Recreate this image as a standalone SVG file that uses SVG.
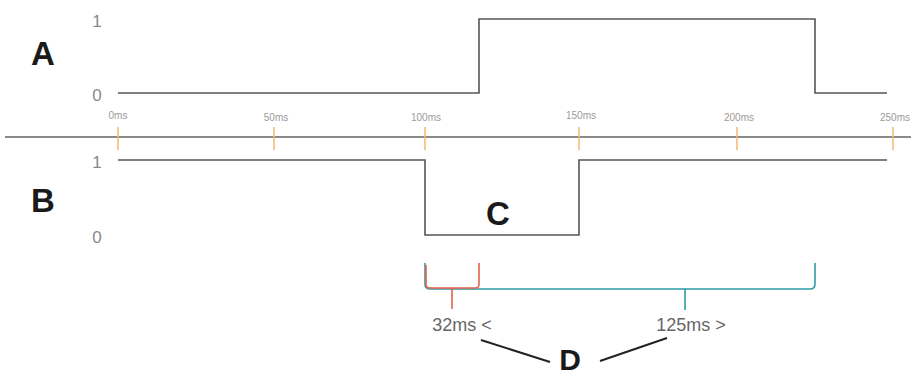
<svg xmlns="http://www.w3.org/2000/svg" width="911" height="377" viewBox="0 0 911 377">
<style>
.sig{fill:none;stroke:#555;stroke-width:1.6;stroke-linejoin:miter}
.axis{stroke:#8a8a8a;stroke-width:2}
.tick{stroke:#f2b870;stroke-width:1.5}
.tl{font-family:"Liberation Sans",Arial,sans-serif;font-size:10px;fill:#9a9a9a;text-anchor:middle}
.lvl{font-family:"Liberation Sans",Arial,sans-serif;font-size:17px;fill:#8a8a8a;text-anchor:middle}
.big{font-family:"Liberation Sans",Arial,sans-serif;font-size:33px;font-weight:bold;fill:#1a1a1a;text-anchor:middle}
.ms{font-family:"Liberation Sans",Arial,sans-serif;font-size:18px;fill:#666;text-anchor:middle}
.teal{fill:none;stroke:#2e9ba6;stroke-width:1.6}
.red{fill:none;stroke:#e8614c;stroke-width:1.6}
.lead{stroke:#222;stroke-width:2}
</style>
<rect width="911" height="377" fill="#fff"/>
<g id="axis">
<line class="axis" x1="5" y1="137" x2="911" y2="137"/>
<g id="ticks">
<line class="tick" x1="118" y1="127" x2="118" y2="150"/>
<line class="tick" x1="274" y1="127" x2="274" y2="150"/>
<line class="tick" x1="425" y1="127" x2="425" y2="150"/>
<line class="tick" x1="579" y1="127" x2="579" y2="150"/>
<line class="tick" x1="737" y1="127" x2="737" y2="150"/>
<line class="tick" x1="893" y1="127" x2="893" y2="150"/>
</g>
<g id="tick-labels">
<text class="tl" x="118" y="119">0ms</text>
<text class="tl" x="276" y="121">50ms</text>
<text class="tl" x="426" y="121">100ms</text>
<text class="tl" x="581" y="119">150ms</text>
<text class="tl" x="739" y="121">200ms</text>
<text class="tl" x="895" y="121">250ms</text>
</g>
</g>
<g id="signalA">
<path class="sig" d="M118,93 H479 V19 H815 V93 H887"/>
<text class="lvl" x="97" y="27">1</text>
<text class="lvl" x="97" y="101">0</text>
<text class="big" x="43" y="65">A</text>
</g>
<g id="signalB">
<path class="sig" d="M118,160 H425 V235 H579 V160 H887"/>
<text class="lvl" x="97" y="168">1</text>
<text class="lvl" x="97" y="243">0</text>
<text class="big" x="43" y="212">B</text>
<text class="big" x="498" y="225">C</text>
</g>
<g id="brackets">
<path class="teal" d="M425,263 V284 Q425,289 430,289 H810 Q815,289 815,284 V263"/>
<line class="teal" x1="685" y1="289" x2="685" y2="310"/>
<path class="red" d="M426,265 V284 Q426,288 430,288 H475 Q479,288 479,284 V263"/>
<line class="red" x1="452" y1="288" x2="452" y2="309"/>
<text class="ms" x="462" y="331">32ms &lt;</text>
<text class="ms" x="691" y="331">125ms &gt;</text>
</g>
<g id="connectors">
<line class="lead" x1="481" y1="340" x2="550" y2="362"/>
<line class="lead" x1="600" y1="361" x2="667" y2="338"/>
</g>
<g id="labelD">
<text class="big" x="570" y="370" style="font-size:30px">D</text>
</g>
</svg>
